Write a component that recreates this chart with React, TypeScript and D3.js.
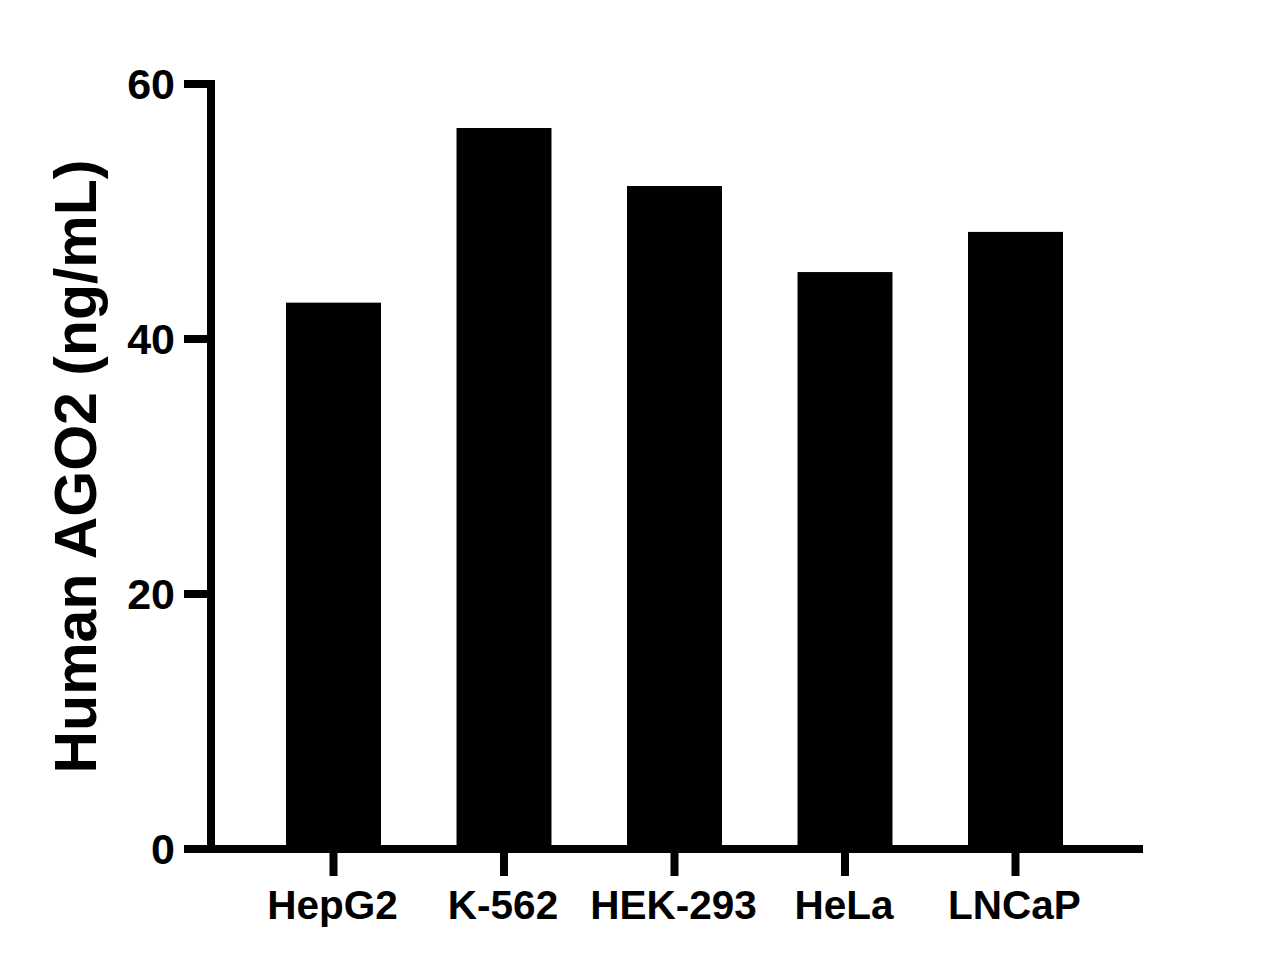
import React from "react";
import * as d3 from "d3";

const categories: string[] = ["HepG2", "K-562", "HEK-293", "HeLa", "LNCaP"];
const values: number[] = [42.85, 56.55, 52.0, 45.25, 48.4];
const yTicks: number[] = [0, 20, 40, 60];
const yTitle = "Human AGO2 (ng/mL)";

const W = 1272;
const H = 971;
const FONT = "'Liberation Sans', Arial, Helvetica, sans-serif";

export default function App() {
  const y = d3.scaleLinear().domain([0, 60]).range([849, 84]);
  const x = d3
    .scaleBand<string>()
    .domain(categories)
    .range([248.25, 1100.75])
    .paddingInner(0.443)
    .paddingOuter(0.2215);

  const axisX = 211;
  const axisY = y(0);
  const sw = 8;

  return (
    <svg
      width={W}
      height={H}
      viewBox={`0 0 ${W} ${H}`}
      style={{ position: "absolute", left: 0, top: 0, background: "#fff" }}
    >
      <rect x={0} y={0} width={W} height={H} fill="#fff" />
      {/* bars */}
      {categories.map((c, i) => (
        <rect
          key={c}
          x={x(c)!}
          y={y(values[i])}
          width={x.bandwidth()}
          height={axisY - y(values[i])}
          fill="#000"
        />
      ))}
      {/* y axis */}
      <line x1={axisX} x2={axisX} y1={y(60) - sw / 2} y2={axisY + sw / 2} stroke="#000" strokeWidth={sw} />
      {yTicks.map((t) => (
        <g key={t}>
          <line x1={184} x2={axisX} y1={y(t)} y2={y(t)} stroke="#000" strokeWidth={sw} />
          <text
            x={175}
            y={y(t)}
            dy="0.36em"
            textAnchor="end"
            fontFamily={FONT}
            fontWeight="bold"
            fontSize={43}
            fill="#000"
          >
            {t}
          </text>
        </g>
      ))}
      {/* x axis */}
      <line x1={184} x2={1143} y1={axisY} y2={axisY} stroke="#000" strokeWidth={sw} />
      {categories.map((c) => {
        const cx = x(c)! + x.bandwidth() / 2;
        return (
          <g key={c}>
            <line x1={cx} x2={cx} y1={axisY} y2={876} stroke="#000" strokeWidth={sw} />
            <text
              x={cx - 1}
              y={919}
              textAnchor="middle"
              fontFamily={FONT}
              fontWeight="bold"
              fontSize={40.5}
              fill="#000"
            >
              {c}
            </text>
          </g>
        );
      })}
      {/* y title */}
      <text
        transform={`translate(96, ${(y(0) + y(60)) / 2}) rotate(-90)`}
        textAnchor="middle"
        fontFamily={FONT}
        fontWeight="bold"
        fontSize={59}
        fill="#000"
      >
        {yTitle}
      </text>
    </svg>
  );
}
